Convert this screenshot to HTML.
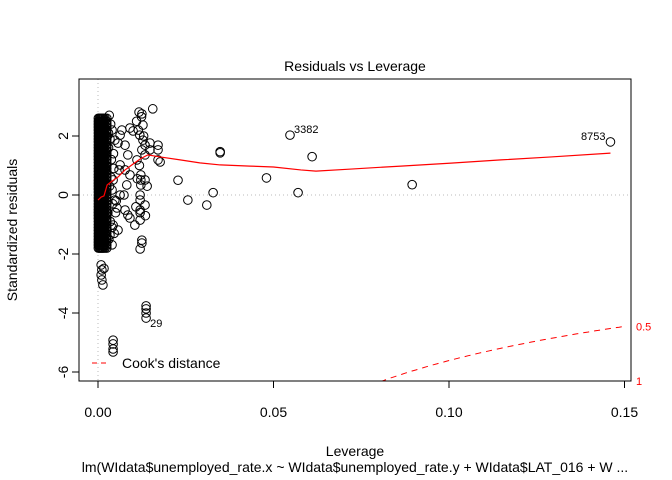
<!DOCTYPE html>
<html><head><meta charset="utf-8"><style>
html,body{margin:0;padding:0;background:#fff;width:672px;height:480px;overflow:hidden}
svg{display:block;font-family:"Liberation Sans",Arial,sans-serif}
</style></head><body>
<svg id="chart" width="672" height="480" viewBox="0 0 672 480" xmlns="http://www.w3.org/2000/svg">
<text x="355" y="71" font-size="14" text-anchor="middle">Residuals vs Leverage</text>
<defs><clipPath id="clip"><rect x="79" y="79" width="552" height="302"/></clipPath></defs>
<g id="plot" clip-path="url(#clip)"></g>
<rect x="79" y="79" width="552" height="302" fill="none" stroke="#000" stroke-width="1"/>
<g id="axes"></g>
<text x="355" y="456" font-size="14" text-anchor="middle">Leverage</text>
<text x="355" y="472" font-size="14" text-anchor="middle">lm(WIdata$unemployed_rate.x ~ WIdata$unemployed_rate.y + WIdata$LAT_016 + W ...</text>
<text transform="translate(17,230) rotate(-90)" font-size="14" text-anchor="middle">Standardized residuals</text>
<g>
<line x1="92" y1="363" x2="108" y2="363" stroke="red" stroke-dasharray="5,4"/>
<text x="122" y="368" font-size="14">Cook's distance</text>
</g>
</svg>
<script>
const xTicks=[0,0.05,0.10,0.15];
const xTickLabels=["0.00","0.05","0.10","0.15"];
const yTicks=[-6,-4,-2,0,2];
const yTickLabels=["-6","-4","-2","0","2"];
// dense low-leverage column
const denseLev=[0.0001,0.0004,0.0007,0.001,0.0013,0.0016,0.002,0.0025];
const denseRes=[2.6,2.5,2.4,2.3,2.2,2.1,2.0,1.9,1.8,1.7,1.6,1.5,1.4,1.3,1.2,1.1,1.0,0.9,0.8,0.7,0.6,0.5,0.4,0.3,0.2,0.1,0.0,-0.1,-0.2,-0.3,-0.4,-0.5,-0.6,-0.7,-0.8,-0.9,-1.0,-1.1,-1.2,-1.3,-1.4,-1.5,-1.6,-1.7,-1.8];
// scattered points
const levs=[0.0156,0.0117,0.0124,0.0128,0.0119,0.0128,0.0125,0.0111,0.0091,0.0100,0.0068,0.0063,0.0048,0.0057,0.0077,0.0085,0.0063,0.0060,0.0077,0.0091,0.0148,0.0148,0.0171,0.0171,0.0171,0.0177,0.0134,0.0134,0.0122,0.0122,0.0122,0.0134,0.0120,0.0120,0.0120,0.0120,0.0134,0.0105,0.0085,0.0077,0.0091,0.0063,0.0048,0.0043,0.0040,0.0043,0.0057,0.0034,0.0040,0.0054,0.0074,0.0082,0.0040,0.0034,0.0028,
0.0032,0.0036,0.0030,0.0038,0.0045,0.0033,0.0042,0.0050,0.0035,0.0046,0.0031,0.0052,0.0037,0.0044,0.0030,0.0040,
0.0110,0.0115,0.0130,0.0125,0.0118,0.0108,0.0140,0.0120,0.0112,0.0135,
0.0009,0.0011,0.0009,0.0011,0.0014,0.0017,
0.0125,0.0125,0.0120,
0.0137,0.0137,0.0137,0.0137,
0.0043,0.0043,0.0043,0.0043,
0.0228,0.0256,0.031,0.0328,0.0348,0.0348,0.048,0.0547,0.061,0.057,0.0895,0.146];
const resids=[2.92,2.81,2.65,2.37,2.03,1.86,1.53,1.19,2.27,2.17,2.20,2.03,1.86,1.76,1.69,1.36,1.02,0.85,0.85,0.68,1.76,1.53,1.69,1.53,1.19,1.12,1.69,1.36,0.68,0.51,0.34,0.51,0.0,-0.17,-0.51,-0.85,-0.34,-1.02,-0.68,-0.51,-0.78,0.0,-0.17,0.51,0.17,-1.02,-1.19,-1.36,-1.69,-0.44,0.0,0.34,2.2,1.9,-0.6,
2.7,2.4,1.6,1.2,0.9,0.3,-0.3,-0.6,-0.9,-1.3,-1.5,-0.2,0.6,1.4,2.1,-1.1,
2.5,2.2,2.0,2.75,1.0,-0.4,0.3,-0.6,0.55,-0.7,
-2.37,-2.54,-2.71,-2.88,-3.05,-2.49,
-1.53,-1.63,-1.83,
-3.76,-3.86,-4.0,-4.17,
-4.92,-5.05,-5.22,-5.32,
0.5,-0.17,-0.34,0.08,1.43,1.47,0.58,2.03,1.3,0.08,0.35,1.8];
const pointLabels=[{lev:0.0547,res:2.03,text:"3382"},{lev:0.146,res:1.8,text:"8753"},{lev:0.0137,res:-4.17,text:"29"}];
// smoother
const smoothLev=[0,0.0009,0.0017,0.0026,0.004,0.0057,0.0077,0.01,0.012,0.0142,0.0177,0.0234,0.029,0.0348,0.0433,0.05,0.0578,0.0621,0.0721,0.0863,0.1006,0.1148,0.1291,0.146];
const smoothRes=[-0.17,-0.07,-0.03,0.34,0.47,0.61,0.85,1.05,1.22,1.36,1.29,1.19,1.09,1.02,0.98,0.95,0.85,0.81,0.88,0.98,1.08,1.19,1.29,1.42];
const cookLevels=[0.5,1];
const nParams=7;

const L=79,R=631,T=79,B=381;
const X=v=>98+v*3510;
const Y=v=>195-v*29.5;
const NS="http://www.w3.org/2000/svg";
const plot=document.getElementById('plot'),axes=document.getElementById('axes');
function mk(tag,attrs,parent){const e=document.createElementNS(NS,tag);for(const k in attrs)e.setAttribute(k,attrs[k]);parent.appendChild(e);return e;}

let e=mk('line',{x1:L,x2:R,y1:Y(0),y2:Y(0),stroke:'#bbb','stroke-dasharray':'1,3'},plot);


e=mk('line',{x1:X(0),x2:X(0),y1:T,y2:B,stroke:'#bbb','stroke-dasharray':'1,3'},plot);



denseLev.forEach(l=>denseRes.forEach(r=>{
  const c=mk('circle',{cx:X(l),cy:Y(r),r:4.3,fill:'none',stroke:'#000','stroke-width':1},plot);
  
  
}));
levs.forEach((l,i)=>{
  const c=mk('circle',{cx:X(l),cy:Y(resids[i]),r:4.3,fill:'none',stroke:'#000','stroke-width':1},plot);
  
  
});
e=mk('polyline',{points:smoothLev.map((l,i)=>X(l)+','+Y(smoothRes[i])).join(' '),fill:'none',stroke:'red','stroke-width':1.2},plot);


cookLevels.forEach(c=>{
  [1,-1].forEach(s=>{
    const pts=[];
    for(let h=0.0005;h<=0.1505;h+=0.001){
      const yy=Y(s*Math.sqrt(c*nParams*(1-h)/h));
      if(yy>=T-5&&yy<=B+5)pts.push(X(h).toFixed(1)+','+yy.toFixed(1));
    }
    if(pts.length<2)return;
    const p=mk('polyline',{points:pts.join(' '),fill:'none',stroke:'red','stroke-dasharray':'6,5','stroke-width':1},plot);
    
    
  });
  const yv=-Math.sqrt(c*nParams*(1-0.15)/0.15);
  const t=mk('text',{x:636,y:Math.min(Y(yv),381)+4,'font-size':11,fill:'red'},axes);
  t.textContent=String(c);
  
  
});
pointLabels.forEach(p=>{
  const anchorRight=p.text==="8753";
  const t=mk('text',{x:anchorRight?X(p.lev)-5:X(p.lev)+4,y:Y(p.res)+(p.text==="29"?9:-2),'font-size':11,'text-anchor':anchorRight?'end':'start'},plot);
  t.textContent=p.text;
  
  
});
xTicks.forEach((v,i)=>{
  const l=mk('line',{x1:X(v),x2:X(v),y1:B,y2:B+7,stroke:'#000'},axes);
  
  
  const t=mk('text',{x:X(v),y:417,'font-size':14,'text-anchor':'middle'},axes);
  t.textContent=xTickLabels[i];
  
  
});
yTicks.forEach((v,i)=>{
  const l=mk('line',{x1:L-7,x2:L,y1:Y(v),y2:Y(v),stroke:'#000'},axes);
  
  
  const t=mk('text',{transform:`translate(${L-11},${Y(v)}) rotate(-90)`,'font-size':14,'text-anchor':'middle'},axes);
  t.textContent=yTickLabels[i];
  
  
});
</script>
</body></html>
